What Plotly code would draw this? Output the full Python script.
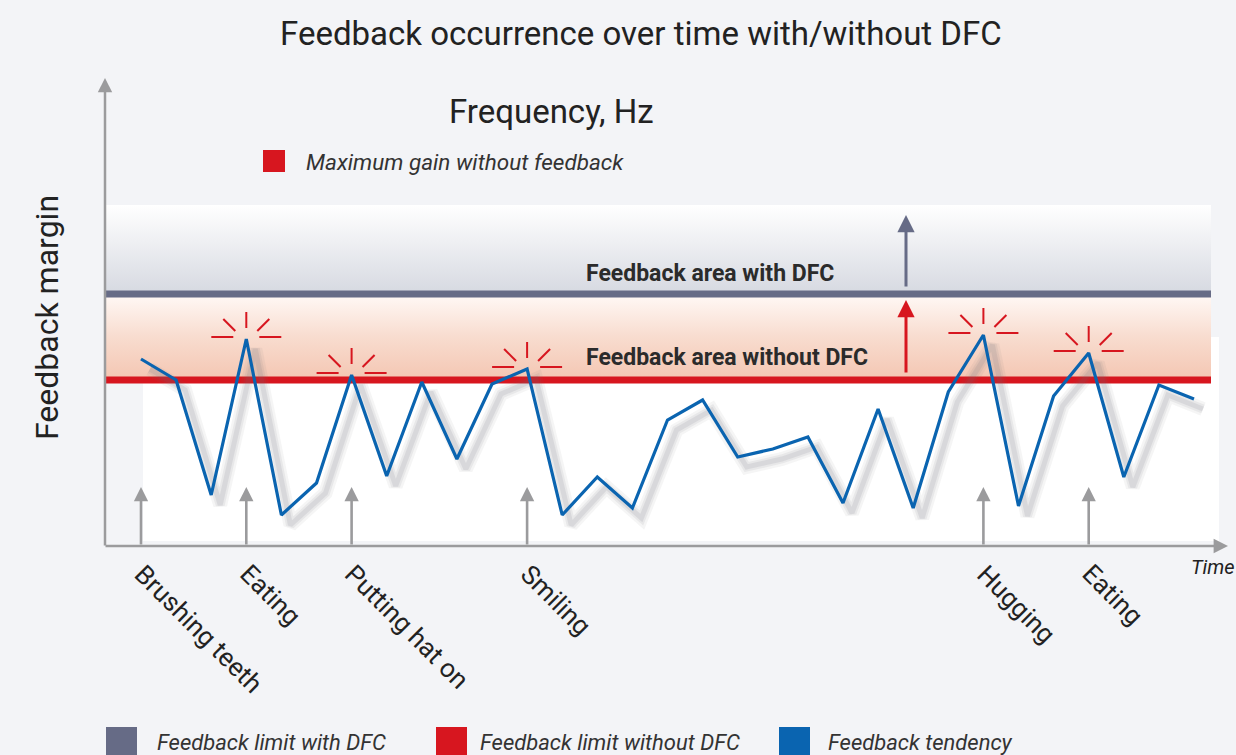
import plotly.graph_objects as go

# ---------------- data ----------------
time_steps = list(range(31))
feedback_tendency = [18.7, 16.6, 5.1, 20.7, 3.1, 6.3, 17.1, 7.0, 16.4, 8.7, 16.2,
                     17.7, 3.1, 6.9, 3.8, 12.6, 14.6, 8.9, 9.7, 10.9, 4.3, 13.7,
                     3.8, 15.4, 21.1, 4.0, 15.0, 19.3, 6.9, 16.1, 14.7]
limit_with_dfc = 25.2
limit_without_dfc = 16.6
area_with_dfc_top = 34.1
event_labels = ["Brushing teeth", "Eating", "Putting hat on", "Smiling", "Hugging", "Eating"]
event_steps = [0, 3, 6, 11, 24, 27]
feedback_steps = [3, 6, 11, 24, 27]
legend_labels = ["Feedback limit with DFC", "Feedback limit without DFC", "Feedback tendency"]

# ---------------- styling / geometry ----------------
W, H = 1236, 755
X_PX0, X_STEP = 141.0, 35.1     # pixel of time step 0, pixels per step
Y_PX0, Y_SCALE = 546.0, 10.0    # pixel of margin 0, pixels per margin unit

def xd(px):
    return (px - X_PX0) / X_STEP

def yd(py):
    return (Y_PX0 - py) / Y_SCALE

def xp(px):
    return px / W

def yp(py):
    return 1 - py / H

BG = "#f3f4f7"
GRAY = "#666b86"
RED = "#d7161f"
BLUE = "#0a64b0"
AXIS = "#9b9b9d"
TXT = "#222222"
FONT = "Roboto, Lato, sans-serif"

fig = go.Figure()

band_x0, band_x1 = xd(105), xd(1211)

# gray band (area with DFC)
fig.add_trace(go.Scatter(
    x=[band_x0, band_x1, band_x1, band_x0, band_x0],
    y=[limit_with_dfc, limit_with_dfc, area_with_dfc_top, area_with_dfc_top, limit_with_dfc],
    mode="lines", line=dict(width=0), fill="toself",
    fillgradient=dict(type="vertical", colorscale=[[0, "#d6d9e1"], [0.6, "#eff0f3"], [1, "#ffffff"]]),
    hoverinfo="skip", showlegend=False))

# red band (area without DFC)
fig.add_trace(go.Scatter(
    x=[band_x0, band_x1, band_x1, band_x0, band_x0],
    y=[limit_without_dfc, limit_without_dfc, limit_with_dfc, limit_with_dfc, limit_without_dfc],
    mode="lines", line=dict(width=0), fill="toself",
    fillgradient=dict(type="vertical", colorscale=[[0, "#f4c6b2"], [0.5, "#f8dccf"], [1, "#fff9f6"]]),
    hoverinfo="skip", showlegend=False))

# limit lines
fig.add_trace(go.Scatter(x=[band_x0, band_x1], y=[limit_with_dfc, limit_with_dfc], mode="lines",
                         line=dict(color=GRAY, width=7), hoverinfo="skip", showlegend=False))
fig.add_trace(go.Scatter(x=[band_x0, band_x1], y=[limit_without_dfc, limit_without_dfc], mode="lines",
                         line=dict(color=RED, width=7), hoverinfo="skip", showlegend=False))

# shadow of tendency line
sdx, sdy = 9 / X_STEP, -10 / Y_SCALE
for w, a in [(14, 0.07), (9, 0.09), (5, 0.12)]:
    fig.add_trace(go.Scatter(x=[t + sdx for t in time_steps], y=[v + sdy for v in feedback_tendency],
                             mode="lines", line=dict(color=f"rgba(110,110,120,{a})", width=w),
                             hoverinfo="skip", showlegend=False))

# tendency line
fig.add_trace(go.Scatter(x=time_steps, y=feedback_tendency, mode="lines",
                         line=dict(color=BLUE, width=3.2), hoverinfo="skip", showlegend=False))

shapes = []
# white panel
shapes.append(dict(type="rect", xref="x", yref="y", x0=xd(143), x1=xd(1219), y0=yd(541), y1=yd(337),
                   fillcolor="#ffffff", line=dict(width=0), layer="below"))

# sparkles over feedback peaks
spark = [((0, -27), (0, -11)), ((-23, -20), (-11, -8)), ((23, -20), (11, -8)),
         ((-35, -2), (-13, -2)), ((35, -2), (13, -2))]
for k in feedback_steps:
    cx, cy = time_steps[k], feedback_tendency[k]
    for (a, b) in spark:
        shapes.append(dict(type="line", xref="x", yref="y",
                           x0=cx + a[0] / X_STEP, y0=cy - a[1] / Y_SCALE,
                           x1=cx + b[0] / X_STEP, y1=cy - b[1] / Y_SCALE,
                           line=dict(color=RED, width=2), layer="above"))

# top legend square
shapes.append(dict(type="rect", xref="paper", yref="paper", x0=xp(263), x1=xp(285), y0=yp(172), y1=yp(150),
                   fillcolor=RED, line=dict(width=0)))

# bottom legend squares
for (x0, x1), c in zip([(106, 137), (436, 467), (779, 810)], [GRAY, RED, BLUE]):
    shapes.append(dict(type="rect", xref="paper", yref="paper", x0=xp(x0), x1=xp(x1), y0=yp(760), y1=yp(727),
                       fillcolor=c, line=dict(width=0)))

ann = []

def arrow(x, y_tip, x_tail, y_tail, color, width, size):
    return dict(x=x, y=y_tip, ax=x_tail, ay=y_tail, xref="x", yref="y", axref="x", ayref="y",
                text="", showarrow=True, arrowhead=2, arrowsize=size, arrowwidth=width,
                arrowcolor=color, standoff=0, startstandoff=0)

# axes
ann.append(arrow(xd(105), yd(78), xd(105), yd(547), AXIS, 2.5, 1.15))
ann.append(arrow(xd(1228), 0, xd(104), 0, AXIS, 2.5, 1.15))

# event arrows
for k in event_steps:
    ann.append(arrow(time_steps[k], yd(487), time_steps[k], 0, AXIS, 2.6, 1.1))

# big arrows
ann.append(arrow(xd(906), yd(215), xd(906), yd(288), GRAY, 3, 1.15))
ann.append(arrow(xd(906), yd(300), xd(906), yd(374), RED, 3, 1.15))

# event labels
for k, lab in zip(event_steps, event_labels):
    ann.append(dict(x=time_steps[k] - 15 / X_STEP, y=yd(556), xref="x", yref="y", text=lab,
                    showarrow=False, textangle=45, xanchor="left", yanchor="top",
                    font=dict(family=FONT, size=26, color=TXT)))

# band labels
ann.append(dict(x=xp(584), y=yp(273), xref="paper", yref="paper", text="<b>Feedback area with DFC</b>",
                showarrow=False, xanchor="left", yanchor="middle", font=dict(family=FONT, size=23, color="#2b2b2b")))
ann.append(dict(x=xp(584), y=yp(357), xref="paper", yref="paper", text="<b>Feedback area without DFC</b>",
                showarrow=False, xanchor="left", yanchor="middle", font=dict(family=FONT, size=23, color="#2b2b2b")))

# titles
ann.append(dict(x=xp(641), y=yp(33), xref="paper", yref="paper", text="Feedback occurrence over time with/without DFC",
                showarrow=False, xanchor="center", yanchor="middle", font=dict(family=FONT, size=33, color=TXT)))
ann.append(dict(x=xp(551), y=yp(112), xref="paper", yref="paper", text="Frequency, Hz",
                showarrow=False, xanchor="center", yanchor="middle", font=dict(family=FONT, size=33, color=TXT)))
ann.append(dict(x=xp(47), y=yp(318), xref="paper", yref="paper", text="Feedback margin", textangle=-90,
                showarrow=False, xanchor="center", yanchor="middle", font=dict(family=FONT, size=32, color=TXT)))
ann.append(dict(x=xp(304), y=yp(162), xref="paper", yref="paper", text="<i>Maximum gain without feedback</i>",
                showarrow=False, xanchor="left", yanchor="middle", font=dict(family=FONT, size=22.5, color="#333333")))
ann.append(dict(x=xp(1189), y=yp(567), xref="paper", yref="paper", text="<i>Time</i>",
                showarrow=False, xanchor="left", yanchor="middle", font=dict(family=FONT, size=20, color=TXT)))

# bottom legend texts
for x0, lab in zip([155, 478, 826], legend_labels):
    ann.append(dict(x=xp(x0), y=yp(742), xref="paper", yref="paper", text=f"<i>{lab}</i>",
                    showarrow=False, xanchor="left", yanchor="middle", font=dict(family=FONT, size=22, color="#333333")))

fig.update_layout(
    width=W, height=H, autosize=False,
    margin=dict(l=0, r=0, t=0, b=0, pad=0),
    paper_bgcolor=BG, plot_bgcolor=BG,
    xaxis=dict(range=[xd(0), xd(W)], visible=False, fixedrange=True),
    yaxis=dict(range=[yd(H), yd(0)], visible=False, fixedrange=True),
    shapes=shapes, annotations=ann, showlegend=False,
)

fig.write_html("out.html", config={"displayModeBar": False},
               post_script="document.body.style.margin='0px';document.body.style.overflow='hidden';")
